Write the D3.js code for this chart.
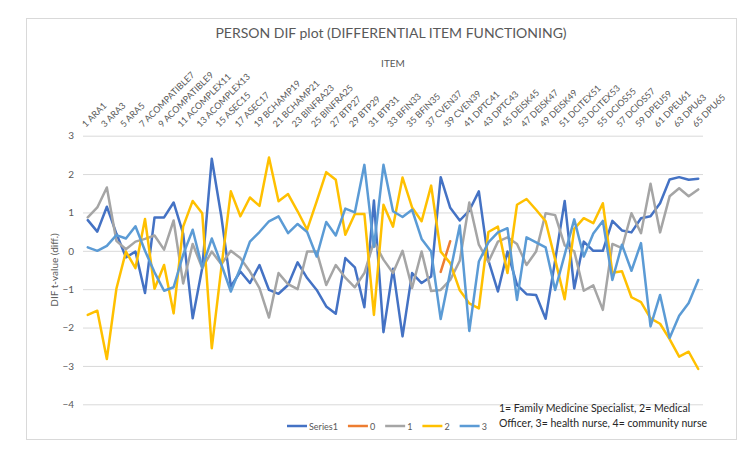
<!DOCTYPE html>
<html>
<head>
<meta charset="utf-8">
<script src="https://cdn.jsdelivr.net/npm/d3@7"></script>
<style>
  body { margin: 0; background: #fff; }
  svg { font-family: Lato, "Open Sans", sans-serif; }
</style>
</head>
<body>
<svg id="chart" width="750" height="455"></svg>
<script>
// data
const items = ["1 ARA1","2 ARA2","3 ARA3","4 ARA4","5 ARA5","6 ACOMPATIBLE6","7 ACOMPATIBLE7","8 ACOMPATIBLE8",
  "9 ACOMPATIBLE9","10 ACOMPLEX10","11 ACOMPLEX11","12 ACOMPLEX12","13 ACOMPLEX13","14 ASEC14","15 ASEC15",
  "16 ASEC16","17 ASEC17","18 BCHAMP18","19 BCHAMP19","20 BCHAMP20","21 BCHAMP21","22 BINFRA22","23 BINFRA23",
  "24 BINFRA24","25 BINFRA25","26 BTP26","27 BTP27","28 BTP28","29 BTP29","30 BTP30","31 BTP31","32 BFIN32",
  "33 BFIN33","34 BFIN34","35 BFIN35","36 CVEN36","37 CVEN37","38 CVEN38","39 CVEN39","40 DPTC40","41 DPTC41",
  "42 DPTC42","43 DPTC43","44 DEISK44","45 DEISK45","46 DEISK46","47 DEISK47","48 DEISK48","49 DEISK49",
  "50 DCITEX50","51 DCITEX51","52 DCITEX52","53 DCITEX53","54 DCIOS54","55 DCIOS55","56 DCIOS56","57 DCIOS57",
  "58 DPEU58","59 DPEU59","60 DPEU60","61 DPEU61","62 DPU62","63 DPU63","64 DPU64","65 DPU65"];

const series1 = [0.8,0.5,1.15,0.45,-0.17,-0.02,-1.1,0.87,0.87,1.26,0.45,-1.76,-0.45,2.4,0.9,-0.93,-0.54,-0.84,-0.37,-1.02,
  -1.12,-0.89,-0.3,-0.71,-1.02,-1.45,-1.64,-0.19,-0.43,-1.47,1.31,-2.12,-0.47,-2.23,-0.58,-0.84,-0.67,1.92,1.12,0.79,
  1.05,1.55,-0.25,-1.06,-0.02,-0.89,-1.13,-1.15,-1.77,-0.25,1.3,-0.98,0.24,0,0,0.78,0.53,0.48,0.85,0.9,
  1.24,1.86,1.92,1.85,1.88];
const group0 = items.map(() => null);
group0[37] = -0.55;
group0[38] = 0.25;
const group1 = [0.87,1.13,1.65,0.26,0.04,0.24,0.31,0.4,0.03,0.79,-0.85,0.18,-0.45,-0.02,-0.35,0,-0.19,-0.54,-0.97,-1.74,
  -0.58,-0.87,-1.0,-0.02,-0.02,-0.89,-0.37,-0.7,-0.95,-0.58,0.24,-0.23,-0.58,0,-0.97,-0.02,-1.05,-1.02,-0.76,-0.26,
  1.26,0.16,-0.29,0.24,0.35,0.18,-0.37,-0.02,0.98,0.93,0.14,-0.01,-1.04,-0.9,-1.54,0.18,0.07,0.98,0.46,1.75,
  0.48,1.42,1.63,1.42,1.6];
const group2 = [-1.67,-1.56,-2.82,-0.99,-0.02,-0.45,0.83,-0.99,-0.37,-1.63,0.63,1.3,0.98,-2.54,-0.45,1.55,0.9,1.39,1.17,2.43,
  1.29,1.48,1.03,0.55,1.29,2.05,1.85,0.42,0.96,0.96,-1.67,1.2,0.63,1.91,1.13,0.77,1.7,-0.02,-0.32,-1.03,
  -1.37,-1.5,0.49,0.63,-0.58,1.2,1.35,1.07,0.77,-0.23,-1.26,0.57,0.85,0.72,1.24,-0.57,-0.53,-1.21,-1.34,-1.76,
  -1.9,-2.3,-2.76,-2.63,-3.08];
const group3 = [0.09,0.0,0.13,0.41,0.32,0.64,0.0,-0.56,-1.04,-0.95,-0.1,0.55,-0.44,0.32,-0.35,-1.06,-0.45,0.24,0.49,0.77,
  0.9,0.46,0.7,0.49,-0.15,0.75,0.4,1.1,1.0,2.24,0.1,2.24,1.03,0.88,1.07,0.31,-0.02,-1.78,-0.55,0.66,
  -2.09,-0.28,0.22,0.48,0.59,-1.28,0.35,0.22,0.09,-1.02,-0.1,0.82,-0.15,0.45,0.78,-0.76,0.16,-0.52,0.2,-1.97,
  -1.15,-2.27,-1.69,-1.36,-0.76];

const seriesNames = ["Series1", "0", "1", "2", "3"];
const seriesValues = [series1, group0, group1, group2, group3];
const seriesColors = ["#4472C4", "#ED7D31", "#A5A5A5", "#FFC000", "#5B9BD5"];
const yTicks = [-4, -3, -2, -1, 0, 1, 2, 3];
const noteLines = ["1= Family Medicine Specialist, 2= Medical", "Officer, 3= health nurse, 4= community nurse"];

// layout
const svg = d3.select("#chart");
const plotLeft = 83, plotRight = 703, plotTop = 135.7, plotBottom = 404.3;
const textGray = "#595959";

svg.append("rect")
    .attr("x", 26.5).attr("y", 18.5)
    .attr("width", 710).attr("height", 421)
    .attr("fill", "#fff")
    .attr("stroke", "#d9d9d9");

const x = d3.scaleBand().domain(items).range([plotLeft, plotRight]).padding(0);
const cx = (d) => x(d) + x.bandwidth() / 2;
const y = d3.scaleLinear().domain([-4, 3]).range([plotBottom, plotTop]);

// gridlines + y labels
const yAxis = svg.append("g")
    .attr("transform", `translate(${plotLeft},0)`)
    .call(d3.axisLeft(y).tickValues(yTicks).tickFormat(d3.format("d"))
        .tickSize(-(plotRight - plotLeft)).tickPadding(9));
yAxis.select(".domain").remove();
yAxis.selectAll(".tick line").attr("stroke", "#d9d9d9").attr("stroke-width", 1);
yAxis.selectAll(".tick text")
    .attr("fill", textGray)
    .style("font-size", "10px")
    .style("font-family", "Lato, sans-serif");

// category labels on top, every other item
const xLabels = svg.append("g");
xLabels.selectAll("text")
    .data(items.filter((d, i) => i % 2 === 0))
    .join("text")
    .attr("transform", d => `translate(${cx(d) - 2},${plotTop - 8}) rotate(-45)`)
    .attr("text-anchor", "start")
    .attr("fill", textGray)
    .style("font-size", "9px")
    .text(d => d);

// lines
const line = d3.line()
    .defined(d => d.v !== null)
    .x(d => cx(d.item))
    .y(d => y(d.v));

seriesValues.forEach((vals, s) => {
    const pts = items.map((item, i) => ({ item: item, v: vals[i] }));
    svg.append("path")
        .datum(pts)
        .attr("d", line)
        .attr("fill", "none")
        .attr("stroke", seriesColors[s])
        .attr("stroke-width", 2.5)
        .attr("stroke-linejoin", "round")
        .attr("stroke-linecap", "round");
});

// titles
svg.append("text")
    .attr("x", 391).attr("y", 38)
    .attr("text-anchor", "middle")
    .attr("fill", textGray)
    .style("font-size", "14px")
    .text("PERSON DIF plot (DIFFERENTIAL ITEM FUNCTIONING)");

svg.append("text")
    .attr("x", 393).attr("y", 67)
    .attr("text-anchor", "middle")
    .attr("fill", textGray)
    .style("font-size", "10px")
    .text("ITEM");

svg.append("text")
    .attr("transform", `translate(58,${(plotTop + plotBottom) / 2}) rotate(-90)`)
    .attr("text-anchor", "middle")
    .attr("fill", textGray)
    .style("font-size", "10px")
    .text("DIF t-value (diff.)");

// legend
let lx = 287;
const legendY = 426;
seriesNames.forEach((name, s) => {
    svg.append("line")
        .attr("x1", lx).attr("x2", lx + 20)
        .attr("y1", legendY).attr("y2", legendY)
        .attr("stroke", seriesColors[s])
        .attr("stroke-width", 2.5);
    const t = svg.append("text")
        .attr("x", lx + 22).attr("y", legendY + 3.5)
        .attr("fill", textGray)
        .style("font-size", "9px")
        .text(name);
    lx += 22 + t.node().getComputedTextLength() + 10;
});

// note text box
svg.append("g").selectAll("text")
    .data(noteLines)
    .join("text")
    .attr("x", 499)
    .attr("y", (d, i) => 412 + i * 14.5)
    .attr("fill", "#262626")
    .style("font-size", "10.5px")
    .text(d => d);
</script>
</body>
</html>
